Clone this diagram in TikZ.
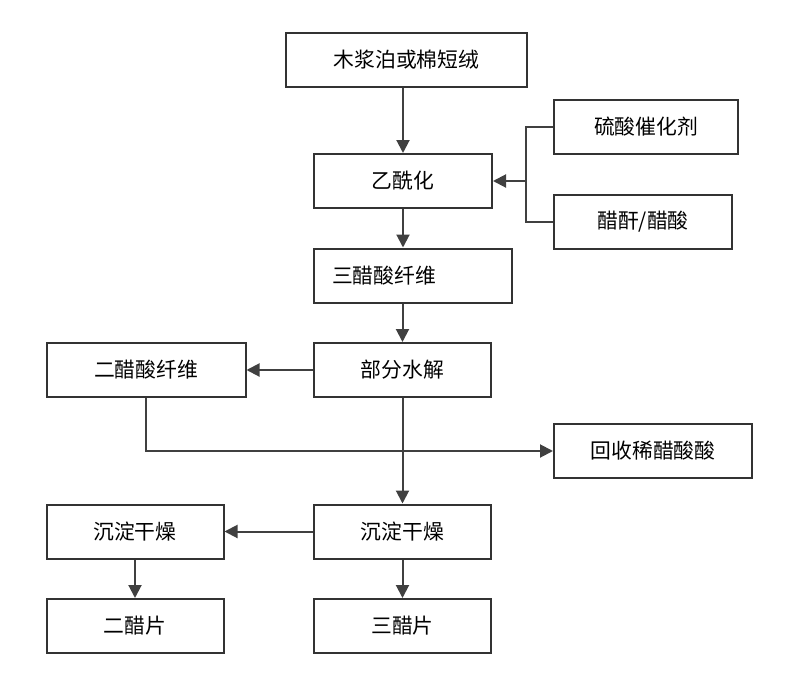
\documentclass[tikz,border=0pt]{standalone}
\usepackage{fontspec}
\setmainfont{Noto Sans CJK SC}
\usetikzlibrary{arrows.meta}
\begin{document}
\begin{tikzpicture}[x=0.5pt,y=-0.5pt,
  every node/.style={align=center,font=\fontsize{10.4pt}{12pt}\selectfont},
  stage/.style={draw=black!80,line width=1pt,minimum height=27pt,inner sep=2pt},
  link/.style={line width=1pt,draw=black!75},
  >={Triangle[length=6.5pt,width=6.5pt]}]
  \useasboundingbox (0,0) rectangle (800,681);
  \node[stage,minimum width=120.5pt] (raw) at (406.5,60){木浆泊或棉短绒};
  \node[stage,minimum width=89pt] (acet) at (403,181){乙酰化};
  \node[stage,minimum width=92pt] (cat) at (646,127){硫酸催化剂};
  \node[stage,minimum width=89pt] (anhyd) at (643,221.5){醋酐/醋酸};
  \node[stage,text width=81pt,inner xsep=9pt,align=left] (tri) at (413,275.5){三醋酸纤维};
  \node[stage,minimum width=99.5pt] (di) at (146,370){二醋酸纤维};
  \node[stage,minimum width=88.5pt] (hydro) at (402.5,370){部分水解};
  \node[stage,minimum width=99pt] (recov) at (653,451){回收稀醋酸酸};
  \node[stage,minimum width=88.5pt] (precL) at (135,531.5){沉淀干燥};
  \node[stage,minimum width=88.5pt] (precC) at (402.5,531.5){沉淀干燥};
  \node[stage,minimum width=88.5pt] (diflake) at (135,626){二醋片};
  \node[stage,minimum width=88.5pt] (triflake) at (402.5,626){三醋片};
  \coordinate (jn) at (526,181);
  \draw[link,->] (raw.south -| acet.north) -- (acet.north);
  \draw[link] (cat.west) -| (jn);
  \draw[link] (anhyd.west) -| (jn);
  \draw[link,->] (jn) -- (acet.east);
  \draw[link,->] (acet.south) -- (acet.south |- tri.north);
  \draw[link,->] (tri.south -| hydro.north) -- (hydro.north);
  \draw[link,->] (hydro.west) -- (di.east);
  \draw[link,->] (di.south) |- (recov.west);
  \draw[link,->] (hydro.south) -- (precC.north);
  \draw[link,->] (precC.west) -- (precL.east);
  \draw[link,->] (precL.south) -- (diflake.north);
  \draw[link,->] (precC.south) -- (triflake.north);
\end{tikzpicture}
\end{document}
